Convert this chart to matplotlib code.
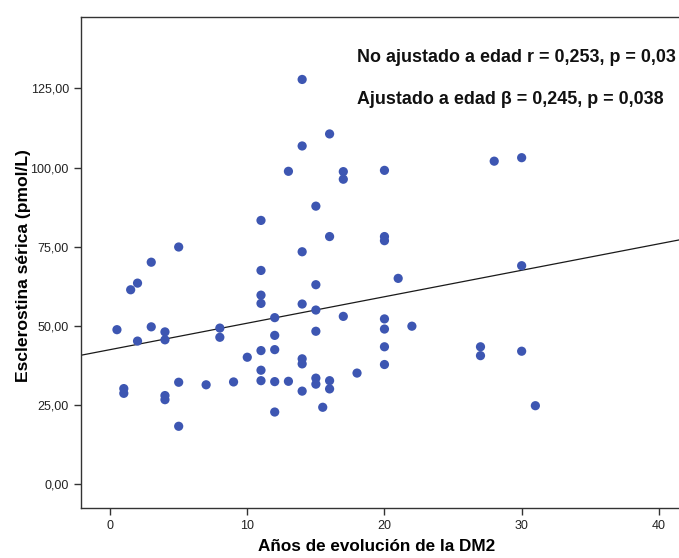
import matplotlib
matplotlib.use("Agg")
import matplotlib.pyplot as plt
from matplotlib.ticker import FuncFormatter

# Years since type 2 diabetes diagnosis and serum sclerostin (pmol/L)
years = [0.5, 1, 1, 1.5, 2, 2, 3, 3, 4, 4, 4, 4, 5, 5, 5, 7, 8, 8, 9, 10,
         11, 11, 11, 11, 11, 11, 11, 12, 12, 12, 12, 12, 13, 13,
         14, 14, 14, 14, 14, 14, 14, 15, 15, 15, 15, 15, 15, 15.5,
         16, 16, 16, 16, 17, 17, 17, 18, 20, 20, 20, 20, 20, 20, 20,
         21, 22, 27, 27, 28, 30, 30, 30, 31]
sclerostin = [48.8, 30.2, 28.7, 61.4, 63.5, 45.2, 70.1, 49.7, 48.1, 45.6, 28.0, 26.7,
              74.9, 32.2, 18.3, 31.4, 49.3, 46.4, 32.3, 40.1,
              83.3, 67.5, 59.7, 57.1, 42.2, 36.0, 32.7, 52.6, 47.0, 42.5, 32.4, 22.8,
              98.8, 32.5, 127.8, 106.8, 73.4, 56.9, 39.6, 38.0, 29.4,
              87.8, 63.0, 55.0, 48.3, 33.5, 31.6, 24.3,
              110.6, 78.2, 32.7, 30.1, 98.7, 96.3, 53.0, 35.1,
              99.1, 78.2, 76.9, 52.2, 49.0, 43.4, 37.8,
              65.0, 49.9, 43.4, 40.6, 102.0, 103.1, 69.0, 42.0, 24.8]

# Linear fit line
fit_intercept = 42.5
fit_slope = 0.835

x_ticks = [0, 10, 20, 30, 40]
y_ticks = [0, 25, 50, 75, 100, 125]

stats_lines = ["No ajustado a edad r = 0,253, p = 0,03",
               "Ajustado a edad \u03b2 = 0,245, p = 0,038"]

plt.rcParams["font.family"] = ["Liberation Sans", "DejaVu Sans"]

fig = plt.figure(figsize=(6.79, 5.58), dpi=100)
ax = fig.add_axes([0.1189, 0.0896, 0.8811, 0.8804])

x_lo, x_hi = -2.14, 41.47
y_lo, y_hi = -7.5, 147.6
ax.set_xlim(x_lo, x_hi)
ax.set_ylim(y_lo, y_hi)

ax.plot([x_lo, x_hi], [fit_intercept + fit_slope * x_lo, fit_intercept + fit_slope * x_hi],
        color="#1a1a1a", lw=0.9, zorder=2)
ax.scatter(years, sclerostin, s=44, color="#3D56B2", edgecolors="none", zorder=3)

ax.set_xticks(x_ticks)
ax.set_yticks(y_ticks)
ax.yaxis.set_major_formatter(FuncFormatter(lambda v, p: f"{v:.2f}".replace(".", ",")))
ax.tick_params(direction="out", length=5, width=1, color="#333333",
               labelsize=9, labelcolor="#222222")
for lab in ax.get_xticklabels() + ax.get_yticklabels():
    lab.set_family(["Liberation Sans Narrow", "Liberation Sans", "DejaVu Sans"])

for side in ["left", "bottom", "top"]:
    ax.spines[side].set_color("#333333")
    ax.spines[side].set_linewidth(1.0)
ax.spines["right"].set_visible(False)

ax.set_xlabel("Años de evolución de la DM2", fontsize=12.3, fontweight="bold")
ax.xaxis.set_label_coords(0.495, -0.078)
ax.xaxis.label.set_verticalalignment("center")

ax.set_ylabel("Esclerostina sérica (pmol/L)", fontsize=12.6, fontweight="bold")
ax.yaxis.set_label_coords(-0.0964, 0.4926)
ax.yaxis.label.set_verticalalignment("center")
ax.yaxis.label.set_horizontalalignment("center")

ax.text(357, 558 - 58, stats_lines[0], transform=None, fontsize=12.9,
        fontweight="bold", ha="left", va="center", color="#111111")
ax.text(357, 558 - 99, stats_lines[1], transform=None, fontsize=12.9,
        fontweight="bold", ha="left", va="center", color="#111111")

fig.savefig("out.png", dpi=100, facecolor="white")
